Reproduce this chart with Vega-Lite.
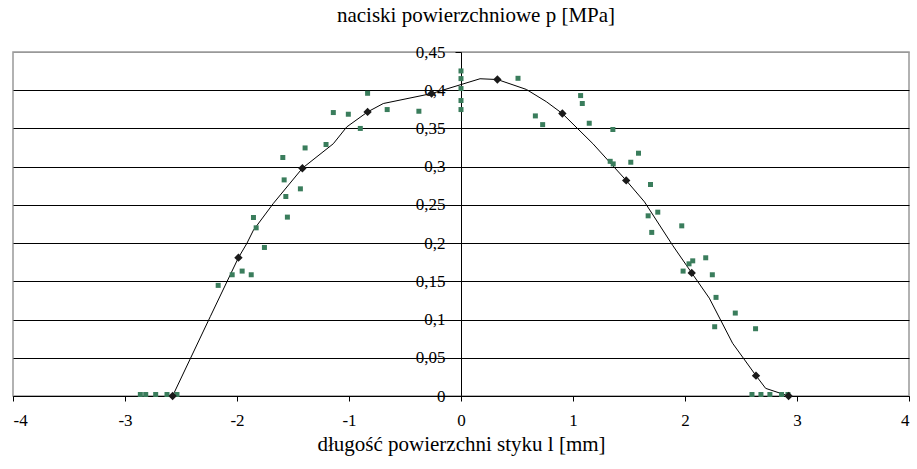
{
  "$schema": "https://vega.github.io/schema/vega-lite/v6.json",
  "width": 896,
  "height": 344,
  "autosize": "none",
  "padding": {"left": 13, "top": 52, "right": 8, "bottom": 73},
  "background": "white",
  "title": {
    "text": "naciski powierzchniowe p [MPa]",
    "font": "Liberation Serif",
    "fontSize": 21,
    "fontWeight": "normal",
    "color": "black",
    "anchor": "middle",
    "frame": "group",
    "dx": 15,
    "offset": 17
  },
  "config": {
    "view": {"stroke": "#999999", "strokeWidth": 1.5},
    "axis": {"labelFont": "Liberation Serif", "titleFont": "Liberation Serif", "labelColor": "black", "titleColor": "black"}
  },
  "datasets": {
    "pomiary": [
      {"x": -2.863, "y": 0.002}, {"x": -2.815, "y": 0.002}, {"x": -2.726, "y": 0.002}, {"x": -2.625, "y": 0.002}, {"x": -2.536, "y": 0.002},
      {"x": -2.168, "y": 0.1447}, {"x": -2.043, "y": 0.1586}, {"x": -1.954, "y": 0.1634}, {"x": -1.873, "y": 0.1586}, {"x": -1.755, "y": 0.1943},
      {"x": -1.853, "y": 0.2335}, {"x": -1.829, "y": 0.220}, {"x": -1.591, "y": 0.312}, {"x": -1.579, "y": 0.2827}, {"x": -1.564, "y": 0.261},
      {"x": -1.55, "y": 0.234}, {"x": -1.434, "y": 0.271}, {"x": -1.392, "y": 0.3245}, {"x": -1.205, "y": 0.329}, {"x": -1.14, "y": 0.3708},
      {"x": -1.006, "y": 0.3686}, {"x": -0.899, "y": 0.35}, {"x": -0.834, "y": 0.396}, {"x": -0.659, "y": 0.3747}, {"x": -0.376, "y": 0.3725},
      {"x": 0.0, "y": 0.4252}, {"x": 0.0, "y": 0.4152}, {"x": 0.0, "y": 0.4022}, {"x": 0.0, "y": 0.3865}, {"x": 0.0, "y": 0.3747},
      {"x": 0.509, "y": 0.4156}, {"x": 0.664, "y": 0.3664}, {"x": 0.729, "y": 0.355}, {"x": 1.068, "y": 0.393}, {"x": 1.083, "y": 0.3826},
      {"x": 1.145, "y": 0.3568}, {"x": 1.356, "y": 0.3486}, {"x": 1.332, "y": 0.307}, {"x": 1.359, "y": 0.3036}, {"x": 1.516, "y": 0.3058},
      {"x": 1.585, "y": 0.3176}, {"x": 1.692, "y": 0.2767}, {"x": 1.671, "y": 0.2357}, {"x": 1.757, "y": 0.2405}, {"x": 1.703, "y": 0.214},
      {"x": 1.971, "y": 0.2226}, {"x": 1.983, "y": 0.1634}, {"x": 2.036, "y": 0.1729}, {"x": 2.069, "y": 0.1768}, {"x": 2.185, "y": 0.1808},
      {"x": 2.244, "y": 0.1586}, {"x": 2.277, "y": 0.129}, {"x": 2.265, "y": 0.0906}, {"x": 2.449, "y": 0.1085}, {"x": 2.63, "y": 0.088},
      {"x": 2.598, "y": 0.002}, {"x": 2.678, "y": 0.002}, {"x": 2.758, "y": 0.002}, {"x": 2.862, "y": 0.002}, {"x": 2.919, "y": 0.002}
    ],
    "model": [
      {"x": -2.575, "y": 0.0}, {"x": -1.987, "y": 0.181}, {"x": -1.416, "y": 0.298}, {"x": -0.834, "y": 0.3716}, {"x": -0.263, "y": 0.3956},
      {"x": 0.325, "y": 0.414}, {"x": 0.905, "y": 0.3695}, {"x": 1.475, "y": 0.282}, {"x": 2.06, "y": 0.161}, {"x": 2.634, "y": 0.0266}, {"x": 2.925, "y": 0.0}
    ],
    "linia": [
      {"x": -2.575, "y": 0.0}, {"x": -2.239, "y": 0.1037}, {"x": -1.987, "y": 0.181}, {"x": -1.912, "y": 0.1996}, {"x": -1.853, "y": 0.217},
      {"x": -1.675, "y": 0.252}, {"x": -1.416, "y": 0.298}, {"x": -1.14, "y": 0.330}, {"x": -1.02, "y": 0.352}, {"x": -0.834, "y": 0.3716},
      {"x": -0.694, "y": 0.3826}, {"x": -0.263, "y": 0.3956}, {"x": 0.17, "y": 0.415}, {"x": 0.325, "y": 0.414}, {"x": 0.584, "y": 0.401},
      {"x": 0.762, "y": 0.385}, {"x": 0.905, "y": 0.3695}, {"x": 1.178, "y": 0.330}, {"x": 1.475, "y": 0.282}, {"x": 1.638, "y": 0.254},
      {"x": 1.89, "y": 0.197}, {"x": 2.06, "y": 0.161}, {"x": 2.217, "y": 0.128}, {"x": 2.425, "y": 0.069}, {"x": 2.634, "y": 0.0266},
      {"x": 2.72, "y": 0.010}, {"x": 2.925, "y": 0.0}
    ]
  },
  "encoding": {
    "x": {
      "field": "x", "type": "quantitative",
      "scale": {"domain": [-4, 4], "nice": false, "zero": false},
      "axis": {
        "title": "długość powierzchni styku l [mm]",
        "titleFont": "Liberation Serif",
        "titleFontSize": 21, "titleFontWeight": "normal", "titlePadding": 5,
        "values": [-4, -3, -2, -1, 0, 1, 2, 3, 4],
        "labelExpr": "toString(datum.value)",
        "labelFont": "Liberation Serif",
        "labelFontSize": 17, "labelPadding": 11,
        "grid": false,
        "domainColor": "black", "domainWidth": 1,
        "tickColor": "black", "tickSize": 5, "tickWidth": 1
      }
    },
    "y": {
      "field": "y", "type": "quantitative",
      "scale": {"domain": [0, 0.45], "nice": false},
      "axis": {
        "title": null,
        "values": [0, 0.05, 0.1, 0.15, 0.2, 0.25, 0.3, 0.35, 0.4, 0.45],
        "labelExpr": "replace(format(datum.value, '~g'), '.', ',')",
        "labelFont": "Liberation Serif",
        "labelFontSize": 17, "labelPadding": 10,
        "offset": -448,
        "grid": true,
        "gridColor": {"condition": {"test": "datum.value >= 0.449", "value": "#999999"}, "value": "black"},
        "gridWidth": 1,
        "domainColor": "black", "domainWidth": 1,
        "tickColor": "black", "tickSize": 6, "tickWidth": 1
      }
    }
  },
  "layer": [
    {
      "data": {"name": "linia"},
      "mark": {"type": "line", "color": "black", "strokeWidth": 1, "clip": true}
    },
    {
      "data": {"name": "pomiary"},
      "mark": {"type": "point", "shape": "square", "filled": true, "size": 25, "color": "#3a7d5c", "opacity": 1}
    },
    {
      "data": {"name": "model"},
      "mark": {"type": "point", "shape": "diamond", "filled": true, "size": 70, "color": "#1a1a1a", "opacity": 1}
    }
  ]
}
